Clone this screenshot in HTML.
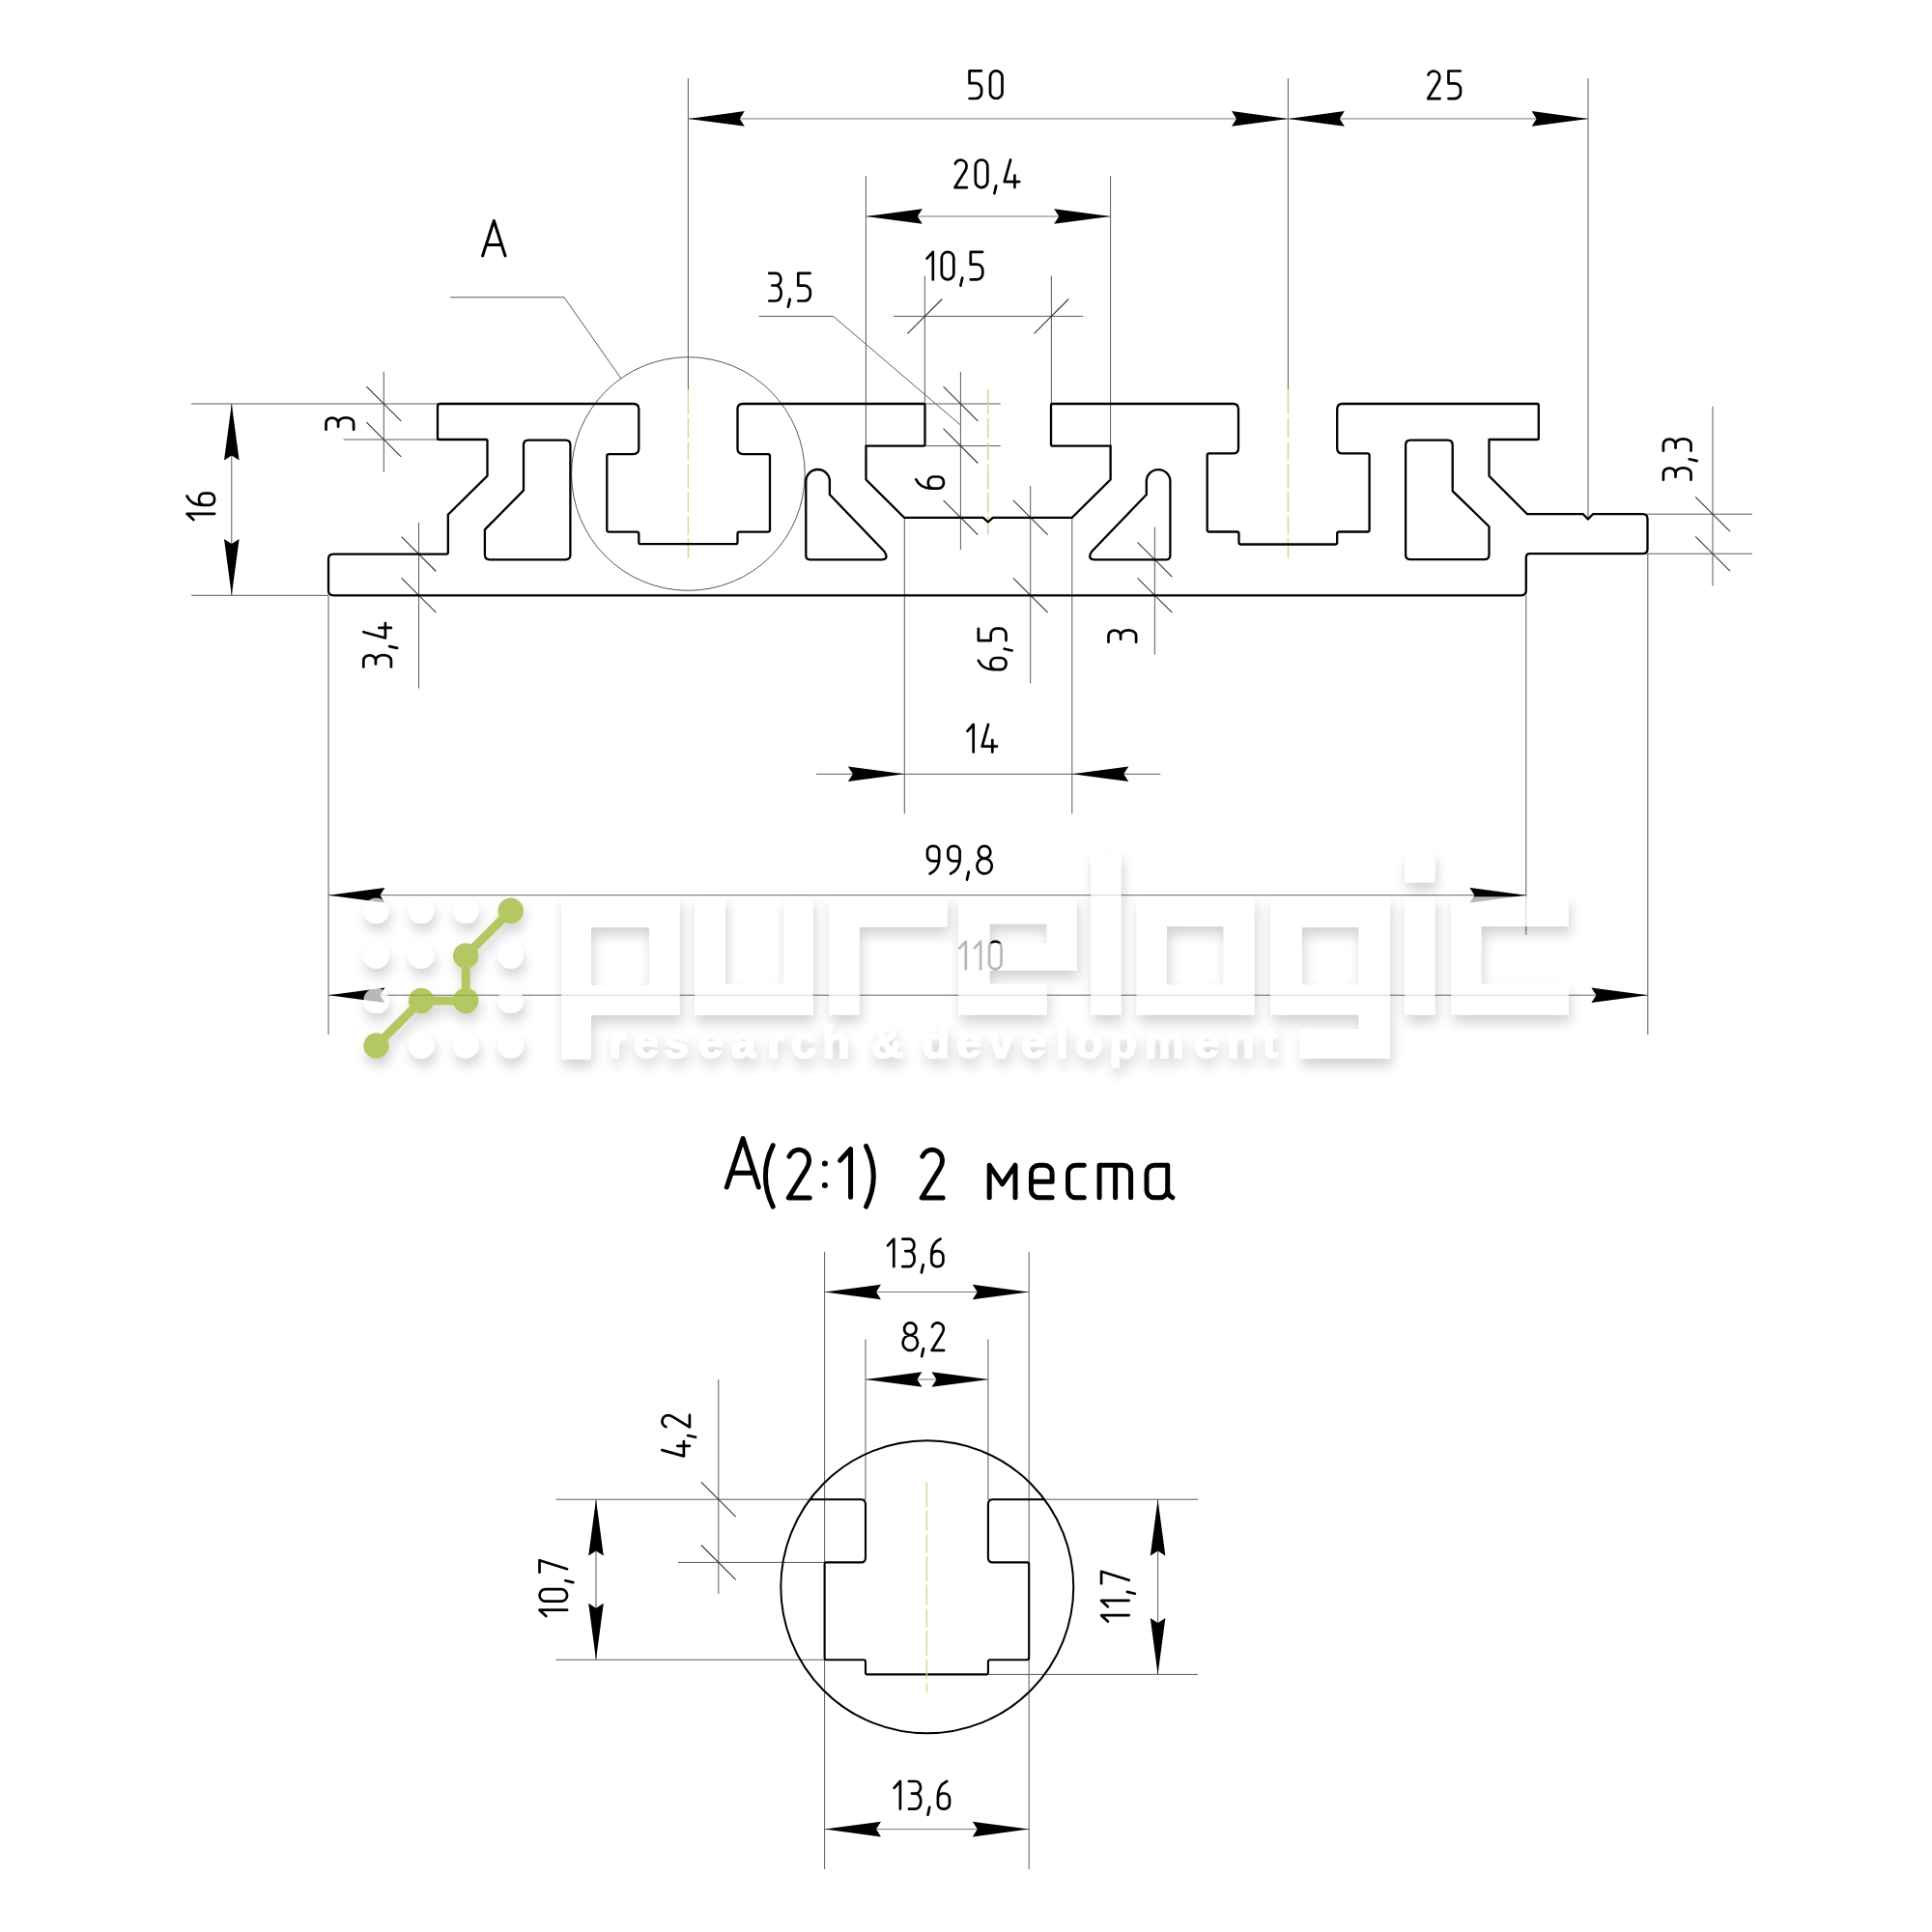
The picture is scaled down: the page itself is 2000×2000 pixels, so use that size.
<!DOCTYPE html><html><head><meta charset="utf-8"><style>html,body{margin:0;padding:0;background:#fff;overflow:hidden}svg{display:block}</style></head><body>
<svg width="2000" height="2000" viewBox="0 0 2000 2000">
<defs><filter id="sh" x="-20%" y="-20%" width="140%" height="160%"><feGaussianBlur in="SourceAlpha" stdDeviation="6.5"/><feOffset dx="2" dy="8" result="b"/><feComponentTransfer in="b" result="c"><feFuncA type="linear" slope="0.25"/></feComponentTransfer><feMerge><feMergeNode in="c"/><feMergeNode in="SourceGraphic"/></feMerge></filter></defs>
<rect width="2000" height="2000" fill="#fff"/>
<line x1="712.4" y1="81" x2="712.4" y2="403" stroke="#5a5a5a" stroke-width="1.0"/>
<line x1="1333.4" y1="81" x2="1333.4" y2="403" stroke="#5a5a5a" stroke-width="1.0"/>
<line x1="1644" y1="81" x2="1644" y2="536" stroke="#5a5a5a" stroke-width="1.0"/>
<line x1="712.4" y1="122.9" x2="1644" y2="122.9" stroke="#7a7a7a" stroke-width="1.0"/>
<path transform="translate(712.4,122.9) rotate(180)" d="M0,0 L-58.4,-7.8 L-53.4,0 L-58.4,7.8 Z" fill="#000"/>
<path transform="translate(1333.4,122.9) rotate(0)" d="M0,0 L-58.4,-7.8 L-53.4,0 L-58.4,7.8 Z" fill="#000"/>
<path transform="translate(1333.4,122.9) rotate(180)" d="M0,0 L-58.4,-7.8 L-53.4,0 L-58.4,7.8 Z" fill="#000"/>
<path transform="translate(1644,122.9) rotate(0)" d="M0,0 L-58.4,-7.8 L-53.4,0 L-58.4,7.8 Z" fill="#000"/>
<g transform="translate(1003.6,73.4)" fill="none" stroke="#000" stroke-width="2.700" stroke-linecap="round" stroke-linejoin="round"><path transform="translate(0.00,0)" d="M12.3,0 H0 V12.8 H6.3 A6.2,6.2 0 0 1 12.5,19 V22.4 A6.2,6.2 0 0 1 6.3,28.6 H0"/><path transform="translate(21.40,0)" d="M0,6.25 A6.25,6.25 0 0 1 12.5,6.25 V22.35 A6.25,6.25 0 0 1 0,22.35 Z"/></g>
<g transform="translate(1478.1,73.5)" fill="none" stroke="#000" stroke-width="2.700" stroke-linecap="round" stroke-linejoin="round"><path transform="translate(0.00,0)" d="M0.4,4.1 A6.1,6.1 0 0 1 12.2,6.3 C12.2,8.3 11.6,9.9 10.6,11.5 L0,28.6 H12.5"/><path transform="translate(21.40,0)" d="M12.3,0 H0 V12.8 H6.3 A6.2,6.2 0 0 1 12.5,19 V22.4 A6.2,6.2 0 0 1 6.3,28.6 H0"/></g>
<line x1="896.4" y1="182" x2="896.4" y2="461.6" stroke="#5a5a5a" stroke-width="1.0"/>
<line x1="1149.6" y1="182" x2="1149.6" y2="496.5" stroke="#5a5a5a" stroke-width="1.0"/>
<line x1="896.4" y1="224" x2="1149.6" y2="224" stroke="#7a7a7a" stroke-width="1.0"/>
<path transform="translate(896.4,224) rotate(180)" d="M0,0 L-58.4,-7.8 L-53.4,0 L-58.4,7.8 Z" fill="#000"/>
<path transform="translate(1149.6,224) rotate(0)" d="M0,0 L-58.4,-7.8 L-53.4,0 L-58.4,7.8 Z" fill="#000"/>
<g transform="translate(988.4,165.5)" fill="none" stroke="#000" stroke-width="2.700" stroke-linecap="round" stroke-linejoin="round"><path transform="translate(0.00,0)" d="M0.4,4.1 A6.1,6.1 0 0 1 12.2,6.3 C12.2,8.3 11.6,9.9 10.6,11.5 L0,28.6 H12.5"/><path transform="translate(21.40,0)" d="M0,6.25 A6.25,6.25 0 0 1 12.5,6.25 V22.35 A6.25,6.25 0 0 1 0,22.35 Z"/><path transform="translate(42.80,0)" d="M0,26.8 L-1.8,34.8"/><path transform="translate(51.40,0)" d="M6.3,0 L0,22.6 H15.4 M10.6,16 V28.6"/></g>
<line x1="957.4" y1="285.5" x2="957.4" y2="418" stroke="#5a5a5a" stroke-width="1.0"/>
<line x1="1088.4" y1="285.5" x2="1088.4" y2="418" stroke="#5a5a5a" stroke-width="1.0"/>
<line x1="924.6" y1="327.4" x2="1121.2" y2="327.4" stroke="#5a5a5a" stroke-width="1.0"/>
<line x1="939.5" y1="345.29999999999995" x2="975.3" y2="309.5" stroke="#383838" stroke-width="1.1"/>
<line x1="1070.5" y1="345.29999999999995" x2="1106.3000000000002" y2="309.5" stroke="#383838" stroke-width="1.1"/>
<g transform="translate(959.5,260.8)" fill="none" stroke="#000" stroke-width="2.700" stroke-linecap="round" stroke-linejoin="round"><path transform="translate(0.00,0)" d="M0,6.8 L6.3,0 V28.6"/><path transform="translate(15.30,0)" d="M0,6.25 A6.25,6.25 0 0 1 12.5,6.25 V22.35 A6.25,6.25 0 0 1 0,22.35 Z"/><path transform="translate(36.70,0)" d="M0,26.8 L-1.8,34.8"/><path transform="translate(45.30,0)" d="M12.3,0 H0 V12.8 H6.3 A6.2,6.2 0 0 1 12.5,19 V22.4 A6.2,6.2 0 0 1 6.3,28.6 H0"/></g>
<line x1="785.6" y1="327.4" x2="862.5" y2="327.4" stroke="#5a5a5a" stroke-width="1.0"/>
<line x1="862.5" y1="327.4" x2="994.4" y2="440" stroke="#5a5a5a" stroke-width="1.0"/>
<g transform="translate(796.3,282.9)" fill="none" stroke="#000" stroke-width="2.700" stroke-linecap="round" stroke-linejoin="round"><path transform="translate(0.00,0)" d="M0,0 H7 A5.1,6.3 0 0 1 7,12.6 H3 M7,12.6 A5.3,7.9 0 0 1 7,28.6 H0"/><path transform="translate(21.40,0)" d="M0,26.8 L-1.8,34.8"/><path transform="translate(30.00,0)" d="M12.3,0 H0 V12.8 H6.3 A6.2,6.2 0 0 1 12.5,19 V22.4 A6.2,6.2 0 0 1 6.3,28.6 H0"/></g>
<line x1="994.4" y1="385" x2="994.4" y2="569" stroke="#5a5a5a" stroke-width="1.0"/>
<line x1="957.5" y1="418" x2="1035.7" y2="418" stroke="#5a5a5a" stroke-width="1.0"/>
<line x1="957.5" y1="461.6" x2="1035.7" y2="461.6" stroke="#5a5a5a" stroke-width="1.0"/>
<line x1="976.5" y1="400.1" x2="1012.3" y2="435.9" stroke="#383838" stroke-width="1.1"/>
<line x1="976.5" y1="443.70000000000005" x2="1012.3" y2="479.5" stroke="#383838" stroke-width="1.1"/>
<line x1="976.5" y1="517.9" x2="1012.3" y2="553.6999999999999" stroke="#383838" stroke-width="1.1"/>
<g transform="translate(948.3,505.6) rotate(-90)" fill="none" stroke="#000" stroke-width="2.700" stroke-linecap="round" stroke-linejoin="round"><path transform="translate(0.00,0)" d="M9.3,0 C3.5,2.6 0,8.5 0,16 V23 A5.5,5.5 0 0 0 5.5,28.6 H6.6 A5.5,5.5 0 0 0 12.1,23 V18 A5.5,5.5 0 0 0 6.6,12.5 H5.5 A5.5,5.5 0 0 0 0.2,16.5"/></g>
<line x1="1066.7" y1="503" x2="1066.7" y2="707.4" stroke="#5a5a5a" stroke-width="1.0"/>
<line x1="1048.8" y1="517.9" x2="1084.6000000000001" y2="553.6999999999999" stroke="#383838" stroke-width="1.1"/>
<line x1="1048.8" y1="598.4" x2="1084.6000000000001" y2="634.1999999999999" stroke="#383838" stroke-width="1.1"/>
<g transform="translate(1012.9,693.1) rotate(-90)" fill="none" stroke="#000" stroke-width="2.700" stroke-linecap="round" stroke-linejoin="round"><path transform="translate(0.00,0)" d="M9.3,0 C3.5,2.6 0,8.5 0,16 V23 A5.5,5.5 0 0 0 5.5,28.6 H6.6 A5.5,5.5 0 0 0 12.1,23 V18 A5.5,5.5 0 0 0 6.6,12.5 H5.5 A5.5,5.5 0 0 0 0.2,16.5"/><path transform="translate(21.40,0)" d="M0,26.8 L-1.8,34.8"/><path transform="translate(30.00,0)" d="M12.3,0 H0 V12.8 H6.3 A6.2,6.2 0 0 1 12.5,19 V22.4 A6.2,6.2 0 0 1 6.3,28.6 H0"/></g>
<line x1="1195.4" y1="545.6" x2="1195.4" y2="677.6" stroke="#5a5a5a" stroke-width="1.0"/>
<line x1="1177.5" y1="561.4" x2="1213.3000000000002" y2="597.1999999999999" stroke="#383838" stroke-width="1.1"/>
<line x1="1177.5" y1="598.4" x2="1213.3000000000002" y2="634.1999999999999" stroke="#383838" stroke-width="1.1"/>
<g transform="translate(1147.5,664.7) rotate(-90)" fill="none" stroke="#000" stroke-width="2.700" stroke-linecap="round" stroke-linejoin="round"><path transform="translate(0.00,0)" d="M0,0 H7 A5.1,6.3 0 0 1 7,12.6 H3 M7,12.6 A5.3,7.9 0 0 1 7,28.6 H0"/></g>
<line x1="1773" y1="420.7" x2="1773" y2="606.6" stroke="#5a5a5a" stroke-width="1.0"/>
<line x1="1704.3" y1="532.2" x2="1814" y2="532.2" stroke="#5a5a5a" stroke-width="1.0"/>
<line x1="1704.3" y1="573.2" x2="1814" y2="573.2" stroke="#5a5a5a" stroke-width="1.0"/>
<line x1="1755.1" y1="514.3000000000001" x2="1790.9" y2="550.1" stroke="#383838" stroke-width="1.1"/>
<line x1="1755.1" y1="555.3000000000001" x2="1790.9" y2="591.1" stroke="#383838" stroke-width="1.1"/>
<g transform="translate(1721.9,496.7) rotate(-90)" fill="none" stroke="#000" stroke-width="2.700" stroke-linecap="round" stroke-linejoin="round"><path transform="translate(0.00,0)" d="M0,0 H7 A5.1,6.3 0 0 1 7,12.6 H3 M7,12.6 A5.3,7.9 0 0 1 7,28.6 H0"/><path transform="translate(21.40,0)" d="M0,26.8 L-1.8,34.8"/><path transform="translate(30.00,0)" d="M0,0 H7 A5.1,6.3 0 0 1 7,12.6 H3 M7,12.6 A5.3,7.9 0 0 1 7,28.6 H0"/></g>
<line x1="198" y1="418.0" x2="453" y2="418.0" stroke="#5a5a5a" stroke-width="1.0"/>
<line x1="198" y1="616.3" x2="340" y2="616.3" stroke="#5a5a5a" stroke-width="1.0"/>
<line x1="239.8" y1="418.0" x2="239.8" y2="616.3" stroke="#5a5a5a" stroke-width="1.0"/>
<path transform="translate(239.8,418.0) rotate(-90)" d="M0,0 L-58.4,-7.8 L-53.4,0 L-58.4,7.8 Z" fill="#000"/>
<path transform="translate(239.8,616.3) rotate(90)" d="M0,0 L-58.4,-7.8 L-53.4,0 L-58.4,7.8 Z" fill="#000"/>
<g transform="translate(193.5,538.1) rotate(-90)" fill="none" stroke="#000" stroke-width="2.700" stroke-linecap="round" stroke-linejoin="round"><path transform="translate(0.00,0)" d="M0,6.8 L6.3,0 V28.6"/><path transform="translate(15.30,0)" d="M9.3,0 C3.5,2.6 0,8.5 0,16 V23 A5.5,5.5 0 0 0 5.5,28.6 H6.6 A5.5,5.5 0 0 0 12.1,23 V18 A5.5,5.5 0 0 0 6.6,12.5 H5.5 A5.5,5.5 0 0 0 0.2,16.5"/></g>
<line x1="355.6" y1="455" x2="453" y2="455" stroke="#5a5a5a" stroke-width="1.0"/>
<line x1="397.3" y1="384.7" x2="397.3" y2="488.7" stroke="#5a5a5a" stroke-width="1.0"/>
<line x1="379.40000000000003" y1="400.1" x2="415.2" y2="435.9" stroke="#383838" stroke-width="1.1"/>
<line x1="379.40000000000003" y1="437.1" x2="415.2" y2="472.9" stroke="#383838" stroke-width="1.1"/>
<g transform="translate(337.5,444.7) rotate(-90)" fill="none" stroke="#000" stroke-width="2.700" stroke-linecap="round" stroke-linejoin="round"><path transform="translate(0.00,0)" d="M0,0 H7 A5.1,6.3 0 0 1 7,12.6 H3 M7,12.6 A5.3,7.9 0 0 1 7,28.6 H0"/></g>
<line x1="433.5" y1="541" x2="433.5" y2="712.6" stroke="#5a5a5a" stroke-width="1.0"/>
<line x1="415.6" y1="555.7" x2="451.4" y2="591.5" stroke="#383838" stroke-width="1.1"/>
<line x1="415.6" y1="598.4" x2="451.4" y2="634.1999999999999" stroke="#383838" stroke-width="1.1"/>
<g transform="translate(376.3,690.5) rotate(-90)" fill="none" stroke="#000" stroke-width="2.700" stroke-linecap="round" stroke-linejoin="round"><path transform="translate(0.00,0)" d="M0,0 H7 A5.1,6.3 0 0 1 7,12.6 H3 M7,12.6 A5.3,7.9 0 0 1 7,28.6 H0"/><path transform="translate(21.40,0)" d="M0,26.8 L-1.8,34.8"/><path transform="translate(30.00,0)" d="M6.3,0 L0,22.6 H15.4 M10.6,16 V28.6"/></g>
<line x1="936.3" y1="535.8" x2="936.3" y2="842.5" stroke="#5a5a5a" stroke-width="1.0"/>
<line x1="1109.8" y1="535.8" x2="1109.8" y2="842.5" stroke="#5a5a5a" stroke-width="1.0"/>
<line x1="845" y1="801.3" x2="1201.3" y2="801.3" stroke="#5a5a5a" stroke-width="1.0"/>
<path transform="translate(936.3,801.3) rotate(0)" d="M0,0 L-58.4,-7.8 L-53.4,0 L-58.4,7.8 Z" fill="#000"/>
<path transform="translate(1109.8,801.3) rotate(180)" d="M0,0 L-58.4,-7.8 L-53.4,0 L-58.4,7.8 Z" fill="#000"/>
<g transform="translate(1001.4,750.0)" fill="none" stroke="#000" stroke-width="2.700" stroke-linecap="round" stroke-linejoin="round"><path transform="translate(0.00,0)" d="M0,6.8 L6.3,0 V28.6"/><path transform="translate(15.30,0)" d="M6.3,0 L0,22.6 H15.4 M10.6,16 V28.6"/></g>
<line x1="340" y1="616.3" x2="340" y2="1071" stroke="#5a5a5a" stroke-width="1.0"/>
<line x1="1579.8" y1="616.3" x2="1579.8" y2="967.8" stroke="#5a5a5a" stroke-width="1.0"/>
<line x1="1705.8" y1="573.2" x2="1705.8" y2="1071" stroke="#5a5a5a" stroke-width="1.0"/>
<line x1="340" y1="926.7" x2="1579.8" y2="926.7" stroke="#6a6a6a" stroke-width="1.0"/>
<path transform="translate(340,926.7) rotate(180)" d="M0,0 L-58.4,-7.8 L-53.4,0 L-58.4,7.8 Z" fill="#000"/>
<path transform="translate(1579.8,926.7) rotate(0)" d="M0,0 L-58.4,-7.8 L-53.4,0 L-58.4,7.8 Z" fill="#000"/>
<g transform="translate(960,875.8)" fill="none" stroke="#000" stroke-width="2.700" stroke-linecap="round" stroke-linejoin="round"><path transform="translate(0.00,0)" d="M12.2,15.6 H5.5 A5.5,5.5 0 0 1 0,10.1 V5.5 A5.5,5.5 0 0 1 5.5,0 H6.7 A5.5,5.5 0 0 1 12.2,5.5 V13 C12.2,20.5 8.5,26 2.6,28.6"/><path transform="translate(21.40,0)" d="M12.2,15.6 H5.5 A5.5,5.5 0 0 1 0,10.1 V5.5 A5.5,5.5 0 0 1 5.5,0 H6.7 A5.5,5.5 0 0 1 12.2,5.5 V13 C12.2,20.5 8.5,26 2.6,28.6"/><path transform="translate(42.80,0)" d="M0,26.8 L-1.8,34.8"/><path transform="translate(51.40,0)" d="M7.7,12.8 A6.2,6.4 0 1 1 7.7,0 A6.2,6.4 0 1 1 7.7,12.8 Z M7.7,12.8 A7.7,7.9 0 1 1 7.7,28.6 A7.7,7.9 0 1 1 7.7,12.8 Z"/></g>
<line x1="340" y1="1030.2" x2="1705.8" y2="1030.2" stroke="#6a6a6a" stroke-width="1.0"/>
<path transform="translate(340,1030.2) rotate(180)" d="M0,0 L-58.4,-7.8 L-53.4,0 L-58.4,7.8 Z" fill="#000"/>
<path transform="translate(1705.8,1030.2) rotate(0)" d="M0,0 L-58.4,-7.8 L-53.4,0 L-58.4,7.8 Z" fill="#000"/>
<g transform="translate(993.5,974.6)" fill="none" stroke="#000" stroke-width="2.700" stroke-linecap="round" stroke-linejoin="round"><path transform="translate(0.00,0)" d="M0,6.8 L6.3,0 V28.6"/><path transform="translate(15.30,0)" d="M0,6.8 L6.3,0 V28.6"/><path transform="translate(30.60,0)" d="M0,6.25 A6.25,6.25 0 0 1 12.5,6.25 V22.35 A6.25,6.25 0 0 1 0,22.35 Z"/></g>
<g transform="translate(499.6,228.5) scale(1.2727272727272727)" fill="none" stroke="#000" stroke-width="2.357" stroke-linecap="round" stroke-linejoin="round"><path transform="translate(0.00,0)" d="M0,28.6 L9.2,0 L18.4,28.6 M3,19.7 H15.4"/></g>
<line x1="466.2" y1="307.8" x2="584" y2="307.8" stroke="#5a5a5a" stroke-width="1.0"/>
<line x1="584" y1="307.8" x2="643" y2="392" stroke="#5a5a5a" stroke-width="1.0"/>
<circle cx="712.4" cy="490.5" r="120.8" fill="none" stroke="#555" stroke-width="1"/>
<line x1="712.4" y1="403" x2="712.4" y2="578" stroke="#d2d890" stroke-width="1.4" stroke-dasharray="26,3.5,21,4,19,3.5"/>
<line x1="1022.8" y1="403.3" x2="1022.8" y2="557" stroke="#d2d890" stroke-width="1.4" stroke-dasharray="26,3.5,21,4,19,3.5"/>
<line x1="1333.4" y1="403" x2="1333.4" y2="578" stroke="#d2d890" stroke-width="1.4" stroke-dasharray="26,3.5,21,4,19,3.5"/>
<path d="M453.00,420.50 Q453.00,418.00 455.50,418.00 L655.80,418.00 Q661.30,418.00 661.30,423.50 L661.30,464.60 Q661.30,470.10 655.80,470.10 L630.30,470.10 Q628.30,470.10 628.30,472.10 L628.30,548.60 Q628.30,550.60 630.30,550.60 L659.30,550.60 Q661.30,550.60 661.30,552.60 L661.30,561.20 Q661.30,563.20 663.30,563.20 L761.50,563.20 Q763.50,563.20 763.50,561.20 L763.50,552.60 Q763.50,550.60 765.50,550.60 L795.00,550.60 Q797.00,550.60 797.00,548.60 L797.00,472.10 Q797.00,470.10 795.00,470.10 L769.00,470.10 Q763.50,470.10 763.50,464.60 L763.50,423.50 Q763.50,418.00 769.00,418.00 L956.00,418.00 Q957.50,418.00 957.50,419.50 L957.50,460.10 Q957.50,461.60 956.00,461.60 L896.50,461.60 L896.50,496.50 L936.00,535.80 L1017.80,535.80 L1022.80,540.50 L1027.80,535.80 L1109.80,535.80 L1149.60,496.50 L1149.60,461.60 L1089.50,461.60 Q1088.00,461.60 1088.00,460.10 L1088.00,419.50 Q1088.00,418.00 1089.50,418.00 L1276.50,418.00 Q1282.00,418.00 1282.00,423.50 L1282.00,463.90 Q1282.00,469.40 1276.50,469.40 L1251.70,469.40 Q1249.70,469.40 1249.70,471.40 L1249.70,548.50 Q1249.70,550.50 1251.70,550.50 L1280.50,550.50 Q1282.50,550.50 1282.50,552.50 L1282.50,561.50 Q1282.50,563.50 1284.50,563.50 L1382.20,563.50 Q1384.20,563.50 1384.20,561.50 L1384.20,552.50 Q1384.20,550.50 1386.20,550.50 L1415.60,550.50 Q1417.60,550.50 1417.60,548.50 L1417.60,471.40 Q1417.60,469.40 1415.60,469.40 L1389.70,469.40 Q1384.20,469.40 1384.20,463.90 L1384.20,423.50 Q1384.20,418.00 1389.70,418.00 L1591.30,418.00 Q1592.80,418.00 1592.80,419.50 L1592.80,453.50 Q1592.80,455.00 1591.30,455.00 L1541.50,455.00 L1541.50,492.70 L1581.00,532.20 L1638.90,532.20 L1643.90,537.50 L1648.90,532.20 L1700.50,532.20 Q1705.50,532.20 1705.50,537.20 L1705.50,568.20 Q1705.50,573.20 1700.50,573.20 L1583.80,573.20 Q1579.80,573.20 1579.80,577.20 L1579.80,611.30 Q1579.80,616.30 1574.80,616.30 L345.00,616.30 Q340.00,616.30 340.00,611.30 L340.00,578.60 Q340.00,573.60 345.00,573.60 L462.30,573.60 Q463.80,573.60 463.80,572.10 L463.80,532.70 L504.50,492.60 L504.50,456.50 Q504.50,455.00 503.00,455.00 L454.50,455.00 Q453.00,455.00 453.00,453.50 Z" fill="none" stroke="#000" stroke-width="2.3" stroke-linejoin="round"/>
<path d="M542.00,460.60 Q542.00,455.60 547.00,455.60 L585.40,455.60 Q590.40,455.60 590.40,460.60 L590.40,574.30 Q590.40,579.30 585.40,579.30 L506.90,579.30 Q501.90,579.30 501.90,574.30 L501.90,548.61 Q501.90,548.20 502.19,547.91 L541.71,507.89 Q542.00,507.60 542.00,507.19 Z" fill="none" stroke="#000" stroke-width="2.3" stroke-linejoin="round"/>
<path d="M1455.10,460.60 Q1455.10,455.60 1460.10,455.60 L1498.70,455.60 Q1503.70,455.60 1503.70,460.60 L1503.70,507.88 Q1503.70,508.30 1504.00,508.59 L1541.20,544.71 Q1541.50,545.00 1541.50,545.42 L1541.50,574.20 Q1541.50,579.20 1536.50,579.20 L1460.10,579.20 Q1455.10,579.20 1455.10,574.20 Z" fill="none" stroke="#000" stroke-width="2.3" stroke-linejoin="round"/>
<path d="M834.3000000000001,498.3 A12.3,12.3 0 0 1 858.9,498.3 L858.9,512 L915.6,571 Q920.6,579.3 912.6,579.3 L838.3000000000001,579.3 Q834.3000000000001,579.3 834.3000000000001,575 Z" fill="none" stroke="#000" stroke-width="2.3" stroke-linejoin="round"/>
<path d="M1211.3999999999999,498.3 A12.3,12.3 0 0 0 1186.8,498.3 L1186.8,512 L1130.1,571 Q1125.1,579.3 1133.1,579.3 L1207.3999999999999,579.3 Q1211.3999999999999,579.3 1211.3999999999999,575 Z" fill="none" stroke="#000" stroke-width="2.3" stroke-linejoin="round"/>
<line x1="853.6" y1="1295.8" x2="853.6" y2="1935" stroke="#5a5a5a" stroke-width="1.0"/>
<line x1="1065.2" y1="1295.8" x2="1065.2" y2="1935" stroke="#5a5a5a" stroke-width="1.0"/>
<line x1="896" y1="1386.4" x2="896" y2="1552.2" stroke="#5a5a5a" stroke-width="1.0"/>
<line x1="1022.9" y1="1386.4" x2="1022.9" y2="1552.2" stroke="#5a5a5a" stroke-width="1.0"/>
<line x1="853.6" y1="1337.5" x2="1065.2" y2="1337.5" stroke="#7a7a7a" stroke-width="1.0"/>
<path transform="translate(853.6,1337.5) rotate(180)" d="M0,0 L-58.4,-7.8 L-53.4,0 L-58.4,7.8 Z" fill="#000"/>
<path transform="translate(1065.2,1337.5) rotate(0)" d="M0,0 L-58.4,-7.8 L-53.4,0 L-58.4,7.8 Z" fill="#000"/>
<g transform="translate(919.0,1282.6)" fill="none" stroke="#000" stroke-width="2.700" stroke-linecap="round" stroke-linejoin="round"><path transform="translate(0.00,0)" d="M0,6.8 L6.3,0 V28.6"/><path transform="translate(15.30,0)" d="M0,0 H7 A5.1,6.3 0 0 1 7,12.6 H3 M7,12.6 A5.3,7.9 0 0 1 7,28.6 H0"/><path transform="translate(36.70,0)" d="M0,26.8 L-1.8,34.8"/><path transform="translate(45.30,0)" d="M9.3,0 C3.5,2.6 0,8.5 0,16 V23 A5.5,5.5 0 0 0 5.5,28.6 H6.6 A5.5,5.5 0 0 0 12.1,23 V18 A5.5,5.5 0 0 0 6.6,12.5 H5.5 A5.5,5.5 0 0 0 0.2,16.5"/></g>
<line x1="896" y1="1428" x2="1022.9" y2="1428" stroke="#7a7a7a" stroke-width="1.0"/>
<path transform="translate(896,1428) rotate(180)" d="M0,0 L-58.4,-7.8 L-53.4,0 L-58.4,7.8 Z" fill="#000"/>
<path transform="translate(1022.9,1428) rotate(0)" d="M0,0 L-58.4,-7.8 L-53.4,0 L-58.4,7.8 Z" fill="#000"/>
<g transform="translate(934.6,1369.3)" fill="none" stroke="#000" stroke-width="2.700" stroke-linecap="round" stroke-linejoin="round"><path transform="translate(0.00,0)" d="M7.7,12.8 A6.2,6.4 0 1 1 7.7,0 A6.2,6.4 0 1 1 7.7,12.8 Z M7.7,12.8 A7.7,7.9 0 1 1 7.7,28.6 A7.7,7.9 0 1 1 7.7,12.8 Z"/><path transform="translate(21.40,0)" d="M0,26.8 L-1.8,34.8"/><path transform="translate(30.00,0)" d="M0.4,4.1 A6.1,6.1 0 0 1 12.2,6.3 C12.2,8.3 11.6,9.9 10.6,11.5 L0,28.6 H12.5"/></g>
<line x1="853.6" y1="1893.6" x2="1065.2" y2="1893.6" stroke="#7a7a7a" stroke-width="1.0"/>
<path transform="translate(853.6,1893.6) rotate(180)" d="M0,0 L-58.4,-7.8 L-53.4,0 L-58.4,7.8 Z" fill="#000"/>
<path transform="translate(1065.2,1893.6) rotate(0)" d="M0,0 L-58.4,-7.8 L-53.4,0 L-58.4,7.8 Z" fill="#000"/>
<g transform="translate(925.6,1844)" fill="none" stroke="#000" stroke-width="2.700" stroke-linecap="round" stroke-linejoin="round"><path transform="translate(0.00,0)" d="M0,6.8 L6.3,0 V28.6"/><path transform="translate(15.30,0)" d="M0,0 H7 A5.1,6.3 0 0 1 7,12.6 H3 M7,12.6 A5.3,7.9 0 0 1 7,28.6 H0"/><path transform="translate(36.70,0)" d="M0,26.8 L-1.8,34.8"/><path transform="translate(45.30,0)" d="M9.3,0 C3.5,2.6 0,8.5 0,16 V23 A5.5,5.5 0 0 0 5.5,28.6 H6.6 A5.5,5.5 0 0 0 12.1,23 V18 A5.5,5.5 0 0 0 6.6,12.5 H5.5 A5.5,5.5 0 0 0 0.2,16.5"/></g>
<line x1="575.4" y1="1552.2" x2="896" y2="1552.2" stroke="#5a5a5a" stroke-width="1.0"/>
<line x1="575.4" y1="1718.2" x2="853.6" y2="1718.2" stroke="#5a5a5a" stroke-width="1.0"/>
<line x1="617" y1="1552.2" x2="617" y2="1718.2" stroke="#5a5a5a" stroke-width="1.0"/>
<path transform="translate(617,1552.2) rotate(-90)" d="M0,0 L-58.4,-7.8 L-53.4,0 L-58.4,7.8 Z" fill="#000"/>
<path transform="translate(617,1718.2) rotate(90)" d="M0,0 L-58.4,-7.8 L-53.4,0 L-58.4,7.8 Z" fill="#000"/>
<g transform="translate(558.5,1673.0) rotate(-90)" fill="none" stroke="#000" stroke-width="2.700" stroke-linecap="round" stroke-linejoin="round"><path transform="translate(0.00,0)" d="M0,6.8 L6.3,0 V28.6"/><path transform="translate(15.30,0)" d="M0,6.25 A6.25,6.25 0 0 1 12.5,6.25 V22.35 A6.25,6.25 0 0 1 0,22.35 Z"/><path transform="translate(36.70,0)" d="M0,26.8 L-1.8,34.8"/><path transform="translate(45.30,0)" d="M0,0 H12.5 L3.5,28.6"/></g>
<line x1="702" y1="1617.4" x2="853.6" y2="1617.4" stroke="#5a5a5a" stroke-width="1.0"/>
<line x1="743.8" y1="1428" x2="743.8" y2="1650" stroke="#5a5a5a" stroke-width="1.0"/>
<line x1="725.9" y1="1534.3" x2="761.6999999999999" y2="1570.1000000000001" stroke="#383838" stroke-width="1.1"/>
<line x1="725.9" y1="1599.5" x2="761.6999999999999" y2="1635.3000000000002" stroke="#383838" stroke-width="1.1"/>
<g transform="translate(685.3,1507.4) rotate(-90)" fill="none" stroke="#000" stroke-width="2.700" stroke-linecap="round" stroke-linejoin="round"><path transform="translate(0.00,0)" d="M6.3,0 L0,22.6 H15.4 M10.6,16 V28.6"/><path transform="translate(21.40,0)" d="M0,26.8 L-1.8,34.8"/><path transform="translate(30.00,0)" d="M0.4,4.1 A6.1,6.1 0 0 1 12.2,6.3 C12.2,8.3 11.6,9.9 10.6,11.5 L0,28.6 H12.5"/></g>
<line x1="1022.9" y1="1552.2" x2="1240" y2="1552.2" stroke="#5a5a5a" stroke-width="1.0"/>
<line x1="1022.9" y1="1733.4" x2="1240" y2="1733.4" stroke="#5a5a5a" stroke-width="1.0"/>
<line x1="1198.6" y1="1552.2" x2="1198.6" y2="1733.4" stroke="#5a5a5a" stroke-width="1.0"/>
<path transform="translate(1198.6,1552.2) rotate(-90)" d="M0,0 L-58.4,-7.8 L-53.4,0 L-58.4,7.8 Z" fill="#000"/>
<path transform="translate(1198.6,1733.4) rotate(90)" d="M0,0 L-58.4,-7.8 L-53.4,0 L-58.4,7.8 Z" fill="#000"/>
<g transform="translate(1140.1,1678.5) rotate(-90)" fill="none" stroke="#000" stroke-width="2.700" stroke-linecap="round" stroke-linejoin="round"><path transform="translate(0.00,0)" d="M0,6.8 L6.3,0 V28.6"/><path transform="translate(15.30,0)" d="M0,6.8 L6.3,0 V28.6"/><path transform="translate(30.60,0)" d="M0,26.8 L-1.8,34.8"/><path transform="translate(39.20,0)" d="M0,0 H12.5 L3.5,28.6"/></g>
<circle cx="959.8" cy="1642.8" r="151.5" fill="none" stroke="#000" stroke-width="2"/>
<path d="M838.38,1552.20 L891.00,1552.20 Q896.00,1552.20 896.00,1557.20 L896.00,1612.40 Q896.00,1617.40 891.00,1617.40 L855.60,1617.40 Q853.60,1617.40 853.60,1619.40 L853.60,1716.20 Q853.60,1718.20 855.60,1718.20 L894.00,1718.20 Q896.00,1718.20 896.00,1720.20 L896.00,1731.40 Q896.00,1733.40 898.00,1733.40 L1020.90,1733.40 Q1022.90,1733.40 1022.90,1731.40 L1022.90,1720.20 Q1022.90,1718.20 1024.90,1718.20 L1063.20,1718.20 Q1065.20,1718.20 1065.20,1716.20 L1065.20,1619.40 Q1065.20,1617.40 1063.20,1617.40 L1027.90,1617.40 Q1022.90,1617.40 1022.90,1612.40 L1022.90,1557.20 Q1022.90,1552.20 1027.90,1552.20 L1081.22,1552.20 " fill="none" stroke="#000" stroke-width="2.1" stroke-linejoin="round"/>
<line x1="959.4" y1="1534" x2="959.4" y2="1751.4" stroke="#d2d890" stroke-width="1.4" stroke-dasharray="26,3.5,21,4,19,3.5"/>
<path fill="none" stroke="#000" stroke-width="5" stroke-linecap="round" stroke-linejoin="round" d="M752.3,1229 L769.1,1178.6 L785.3,1229 M757.5,1214.3 H780.5"/>
<path fill="none" stroke="#000" stroke-width="5" stroke-linecap="round" stroke-linejoin="round" d="M800.2,1185.7 Q784.6,1217.4 800.2,1249.1 M896.6,1186.4 Q912,1217.7 896.6,1249.1"/>
<g transform="translate(816.3,1189.9) scale(1.75)" fill="none" stroke="#000" stroke-width="2.857" stroke-linecap="round" stroke-linejoin="round"><path transform="translate(0.00,0)" d="M0.4,4.1 A6.1,6.1 0 0 1 12.2,6.3 C12.2,8.3 11.6,9.9 10.6,11.5 L0,28.6 H12.5"/></g>
<circle cx="853.9" cy="1204.5" r="3" fill="#000"/><circle cx="853.9" cy="1227.1" r="3" fill="#000"/>
<g transform="translate(869.6,1189.5) scale(1.74)" fill="none" stroke="#000" stroke-width="2.874" stroke-linecap="round" stroke-linejoin="round"><path transform="translate(0.00,0)" d="M0,6.8 L6.3,0 V28.6"/></g>
<g transform="translate(954.2,1189.9) scale(1.75)" fill="none" stroke="#000" stroke-width="2.857" stroke-linecap="round" stroke-linejoin="round"><path transform="translate(0.00,0)" d="M0.4,4.1 A6.1,6.1 0 0 1 12.2,6.3 C12.2,8.3 11.6,9.9 10.6,11.5 L0,28.6 H12.5"/></g>
<path fill="none" stroke="#000" stroke-width="5" stroke-linecap="round" stroke-linejoin="round" d="M1024.2,1239.8 V1206.2 L1037.6,1225.8 L1051,1206.2 V1239.8"/>
<path fill="none" stroke="#000" stroke-width="5" stroke-linecap="round" stroke-linejoin="round" d="M1067.5,1223.3 H1089.1 V1214.2 A8,8 0 0 0 1081.1,1206.2 H1075.5 A8,8 0 0 0 1067.5,1214.2 V1231.8 A8,8 0 0 0 1075.5,1239.8 H1089.1"/>
<path fill="none" stroke="#000" stroke-width="5" stroke-linecap="round" stroke-linejoin="round" d="M1122.2,1206.2 H1113.6 A8,8 0 0 0 1105.6,1214.2 V1231.8 A8,8 0 0 0 1113.6,1239.8 H1122.2"/>
<path fill="none" stroke="#000" stroke-width="5" stroke-linecap="round" stroke-linejoin="round" d="M1138.1,1239.8 V1206.2 H1162.6 A8,8 0 0 1 1170.6,1214.2 V1239.8 M1154.6,1206.2 V1239.8"/>
<path fill="none" stroke="#000" stroke-width="5" stroke-linecap="round" stroke-linejoin="round" d="M1208.7,1206.2 H1195 A8,8 0 0 0 1187,1214.2 V1231.8 A8,8 0 0 0 1195,1239.8 H1200.7 A8,8 0 0 0 1208.7,1231.8 V1206.2 M1208.7,1231.8 Q1208.7,1237.5 1213.8,1239.8"/>
<g opacity="0.72" filter="url(#sh)">
<circle cx="389.5" cy="942.8" r="13.2" fill="#fff"/>
<circle cx="436.1" cy="942.8" r="13.2" fill="#fff"/>
<circle cx="482.2" cy="942.8" r="13.2" fill="#fff"/>
<circle cx="528.7" cy="942.8" r="13.2" fill="#97b227"/>
<circle cx="389.5" cy="989.4" r="13.2" fill="#fff"/>
<circle cx="436.1" cy="989.4" r="13.2" fill="#fff"/>
<circle cx="482.2" cy="989.4" r="13.2" fill="#97b227"/>
<circle cx="528.7" cy="989.4" r="13.2" fill="#fff"/>
<circle cx="389.5" cy="1035.9" r="13.2" fill="#fff"/>
<circle cx="436.1" cy="1035.9" r="13.2" fill="#97b227"/>
<circle cx="482.2" cy="1035.9" r="13.2" fill="#97b227"/>
<circle cx="528.7" cy="1035.9" r="13.2" fill="#fff"/>
<circle cx="389.5" cy="1082.5" r="13.2" fill="#97b227"/>
<circle cx="436.1" cy="1082.5" r="13.2" fill="#fff"/>
<circle cx="482.2" cy="1082.5" r="13.2" fill="#fff"/>
<circle cx="528.7" cy="1082.5" r="13.2" fill="#fff"/>
<path d="M389.5,1082.5 L436.1,1035.9 H482.2 V989.4 L528.7,942.8" fill="none" stroke="#97b227" stroke-width="9"/>
<path fill="#fff" fill-rule="evenodd" d="M581,928.4 H703.6 V1051 H612 V1096.5 H581 Z M612,960 H672 V1020 H612 Z"/>
<path fill="#fff" d="M719,928.4 H751 V1018.4 H811 V928.4 H841.6 V1051 H719 Z"/>
<path fill="#fff" d="M858.1,928.2 H980.8 V959.8 H889.8 V1050.6 H858.1 Z"/>
<path fill="#fff" fill-rule="evenodd" d="M992.2,928.2 H1114.9 V1004.6 H1024.3 V1018.7 H1083.8 V1050.6 H992.2 Z M1024.3,956.2 H1083.8 V976.5 H1024.3 Z"/>
<rect fill="#fff" x="1129.2" y="881.4" width="31.5" height="169.2"/>
<path fill="#fff" fill-rule="evenodd" d="M1176.7,928.2 H1298.6 V1050.6 H1176.7 Z M1208,959 H1266.7 V1019.4 H1208 Z"/>
<path fill="#fff" fill-rule="evenodd" d="M1315,928.2 H1439 V1096 H1345.8 V1065 H1406.7 V1050.6 H1315 Z M1348,960 H1406.7 V1019.4 H1348 Z"/>
<rect fill="#fff" x="1454.2" y="928.2" width="31.3" height="122.4"/><rect fill="#fff" x="1454.2" y="881.7" width="31.3" height="31.9"/>
<path fill="#fff" d="M1502.3,928.2 H1623.8 V959 H1533.3 V1018.8 H1623.8 V1050.6 H1502.3 Z"/>
<text transform="translate(639.4,1095) scale(0.98,1)" text-anchor="middle" font-family="Liberation Sans, sans-serif" font-weight="bold" font-size="47" fill="#fff" stroke="#fff" stroke-width="1.6">r</text>
<text transform="translate(668.9,1095) scale(0.98,1)" text-anchor="middle" font-family="Liberation Sans, sans-serif" font-weight="bold" font-size="47" fill="#fff" stroke="#fff" stroke-width="1.6">e</text>
<text transform="translate(700.1,1095) scale(0.98,1)" text-anchor="middle" font-family="Liberation Sans, sans-serif" font-weight="bold" font-size="47" fill="#fff" stroke="#fff" stroke-width="1.6">s</text>
<text transform="translate(735.7,1095) scale(0.98,1)" text-anchor="middle" font-family="Liberation Sans, sans-serif" font-weight="bold" font-size="47" fill="#fff" stroke="#fff" stroke-width="1.6">e</text>
<text transform="translate(769.6,1095) scale(0.98,1)" text-anchor="middle" font-family="Liberation Sans, sans-serif" font-weight="bold" font-size="47" fill="#fff" stroke="#fff" stroke-width="1.6">a</text>
<text transform="translate(803.1,1095) scale(0.98,1)" text-anchor="middle" font-family="Liberation Sans, sans-serif" font-weight="bold" font-size="47" fill="#fff" stroke="#fff" stroke-width="1.6">r</text>
<text transform="translate(832.1,1095) scale(0.98,1)" text-anchor="middle" font-family="Liberation Sans, sans-serif" font-weight="bold" font-size="47" fill="#fff" stroke="#fff" stroke-width="1.6">c</text>
<text transform="translate(865.5,1095) scale(0.98,1)" text-anchor="middle" font-family="Liberation Sans, sans-serif" font-weight="bold" font-size="47" fill="#fff" stroke="#fff" stroke-width="1.6">h</text>
<text transform="translate(918.3,1095) scale(0.98,1)" text-anchor="middle" font-family="Liberation Sans, sans-serif" font-weight="bold" font-size="47" fill="#fff" stroke="#fff" stroke-width="1.6">&</text>
<text transform="translate(968.8,1095) scale(0.98,1)" text-anchor="middle" font-family="Liberation Sans, sans-serif" font-weight="bold" font-size="47" fill="#fff" stroke="#fff" stroke-width="1.6">d</text>
<text transform="translate(1003.1,1095) scale(0.98,1)" text-anchor="middle" font-family="Liberation Sans, sans-serif" font-weight="bold" font-size="47" fill="#fff" stroke="#fff" stroke-width="1.6">e</text>
<text transform="translate(1036.4,1095) scale(0.98,1)" text-anchor="middle" font-family="Liberation Sans, sans-serif" font-weight="bold" font-size="47" fill="#fff" stroke="#fff" stroke-width="1.6">v</text>
<text transform="translate(1069.7,1095) scale(0.98,1)" text-anchor="middle" font-family="Liberation Sans, sans-serif" font-weight="bold" font-size="47" fill="#fff" stroke="#fff" stroke-width="1.6">e</text>
<text transform="translate(1099.5,1095) scale(0.98,1)" text-anchor="middle" font-family="Liberation Sans, sans-serif" font-weight="bold" font-size="47" fill="#fff" stroke="#fff" stroke-width="1.6">l</text>
<text transform="translate(1127.2,1095) scale(0.98,1)" text-anchor="middle" font-family="Liberation Sans, sans-serif" font-weight="bold" font-size="47" fill="#fff" stroke="#fff" stroke-width="1.6">o</text>
<text transform="translate(1162.5,1095) scale(0.98,1)" text-anchor="middle" font-family="Liberation Sans, sans-serif" font-weight="bold" font-size="47" fill="#fff" stroke="#fff" stroke-width="1.6">p</text>
<text transform="translate(1205.2,1095) scale(0.98,1)" text-anchor="middle" font-family="Liberation Sans, sans-serif" font-weight="bold" font-size="47" fill="#fff" stroke="#fff" stroke-width="1.6">m</text>
<text transform="translate(1249,1095) scale(0.98,1)" text-anchor="middle" font-family="Liberation Sans, sans-serif" font-weight="bold" font-size="47" fill="#fff" stroke="#fff" stroke-width="1.6">e</text>
<text transform="translate(1284.4,1095) scale(0.98,1)" text-anchor="middle" font-family="Liberation Sans, sans-serif" font-weight="bold" font-size="47" fill="#fff" stroke="#fff" stroke-width="1.6">n</text>
<text transform="translate(1314.7,1095) scale(0.98,1)" text-anchor="middle" font-family="Liberation Sans, sans-serif" font-weight="bold" font-size="47" fill="#fff" stroke="#fff" stroke-width="1.6">t</text>
</g>
</svg></body></html>
